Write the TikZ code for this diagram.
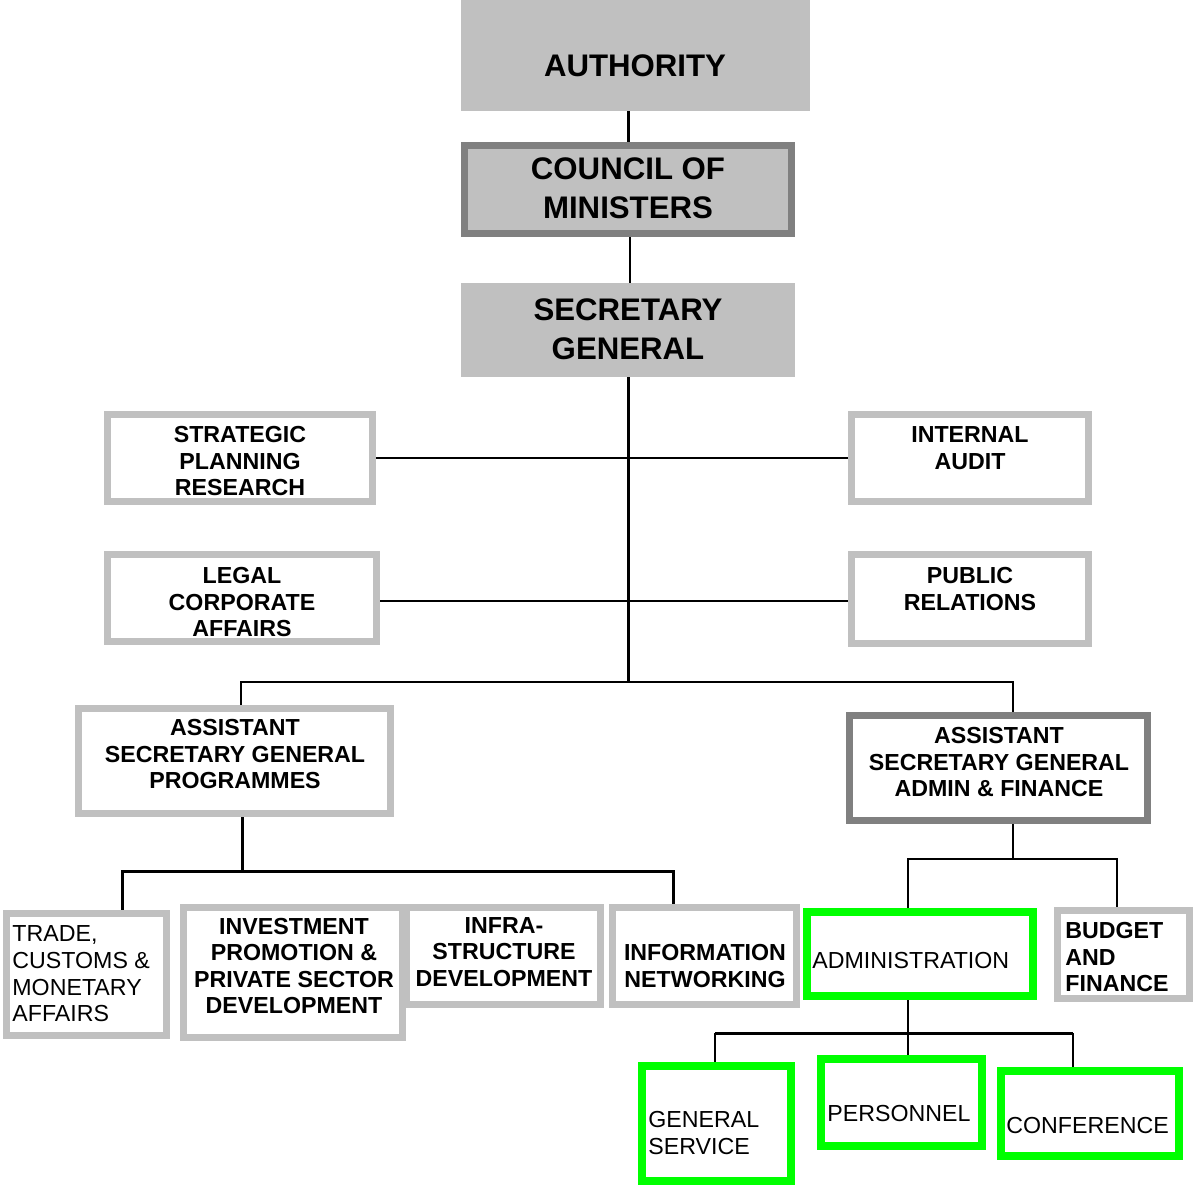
\documentclass[tikz,border=0pt]{standalone}
\usepackage{fontspec}
\setmainfont{Liberation Sans}
\usetikzlibrary{fit,backgrounds}
\definecolor{lg}{HTML}{C0C0C0}
\definecolor{dg}{HTML}{808080}
\definecolor{gr}{HTML}{00FF00}
\begin{document}
\begin{tikzpicture}[x=0.5pt,y=-0.5pt,
  fbox/.style={fill=lg,draw=none,inner sep=0pt},
  dfbox/.style={fill=lg,draw=dg,line width=3.5pt,inner sep=0pt},
  lbox/.style={draw=lg,line width=3.5pt,fill=white,inner sep=0pt},
  dbox/.style={draw=dg,line width=3.5pt,fill=white,inner sep=0pt},
  gbox/.style={draw=gr,line width=4pt,fill=white,inner sep=0pt},
  big/.style={font=\bfseries\fontsize{15.6}{19.5}\selectfont,align=center,inner sep=0pt},
  mid/.style={font=\bfseries\fontsize{11.6}{13.3}\selectfont,align=center,inner sep=0pt},
  midl/.style={font=\bfseries\fontsize{11.6}{13.3}\selectfont,align=left,inner sep=0pt,anchor=west},
  reg/.style={font=\fontsize{11.6}{13.3}\selectfont,align=left,inner sep=0pt,anchor=west},
  thk/.style={line width=1.5pt},
  thn/.style={line width=0.9pt}]
\useasboundingbox (0,0) rectangle (1194,1185);
% boxes
\node[fbox,fit={(461,0) (810,111)}] (auth) {};
\node[dfbox,fit={(464.5,145.5) (791.5,233.5)}] (coun) {};
\node[fbox,fit={(461,283) (795,377)}] (sg) {};
\node[lbox,fit={(107.5,414.5) (372.5,501.5)}] (spr) {};
\node[lbox,fit={(851.5,414.5) (1088.5,501.5)}] (ia) {};
\node[lbox,fit={(107.5,554.5) (376.5,641.5)}] (lca) {};
\node[lbox,fit={(851.5,554.5) (1088.5,643.5)}] (pr) {};
\node[lbox,fit={(78.5,708.5) (390.5,813.5)}] (asgp) {};
\node[dbox,fit={(849.5,715.5) (1147.5,820.5)}] (asga) {};
\node[lbox,fit={(6.5,913.5) (166.5,1035.5)}] (trade) {};
\node[lbox,fit={(183.5,907.5) (402.5,1037.5)}] (inv) {};
\node[lbox,fit={(406.5,907.5) (600.5,1004.5)}] (infra) {};
\node[lbox,fit={(612.5,907.5) (796.5,1004.5)}] (info) {};
\node[gbox,fit={(807,912) (1033,996)}] (adm) {};
\node[lbox,fit={(1057.5,910.5) (1189.5,998.5)}] (bud) {};
\node[gbox,fit={(642,1066) (791,1181)}] (gs) {};
\node[gbox,fit={(821,1059) (982,1146)}] (per) {};
\node[gbox,fit={(1001,1071) (1179,1156)}] (conf) {};
% texts
\node[big] (tauth) at (635,66) {AUTHORITY};
\node[big] (tcoun) at (628,188) {COUNCIL OF\\MINISTERS};
\node[big] (tsg) at (628,329) {SECRETARY\\GENERAL};
\node[mid] (tspr) at (240,461) {STRATEGIC\\PLANNING\\RESEARCH};
\node[mid] (tia) at (970,448) {INTERNAL\\AUDIT};
\node[mid] (tlca) at (242,602) {LEGAL\\CORPORATE\\AFFAIRS};
\node[mid] (tpr) at (970,589) {PUBLIC\\RELATIONS};
\node[mid] (tasgp) at (235,754) {ASSISTANT\\SECRETARY GENERAL\\PROGRAMMES};
\node[mid] (tasga) at (999,762) {ASSISTANT\\SECRETARY GENERAL\\ADMIN \& FINANCE};
\node[reg] (ttrade) at (12,974) {TRADE,\\CUSTOMS \&\\MONETARY\\AFFAIRS};
\node[mid] (tinv) at (294,966) {INVESTMENT\\PROMOTION \&\\PRIVATE SECTOR\\DEVELOPMENT};
\node[mid] (tinfra) at (504,952) {INFRA-\\STRUCTURE\\DEVELOPMENT};
\node[mid] (tinfo) at (705,966) {INFORMATION\\NETWORKING};
\node[reg] (tadm) at (812,960) {ADMINISTRATION};
\node[midl] (tbud) at (1065,957) {BUDGET\\AND\\FINANCE};
\node[reg] (tgs) at (648,1133) {GENERAL\\SERVICE};
\node[reg] (tper) at (827,1113) {PERSONNEL};
\node[reg] (tconf) at (1006,1125) {CONFERENCE};
% junctions
\coordinate (j1) at (628,682);
\coordinate (j2) at (241,682);
\coordinate (j3) at (1013,682);
\coordinate (lr) at (380,601);
\coordinate (k0) at (242,871);
\coordinate (k1) at (122,871);
\coordinate (k2) at (673,871);
\coordinate (m0) at (1013,859);
\coordinate (m1) at (908,859);
\coordinate (m2) at (1117,859);
\coordinate (n0) at (908,1033);
\coordinate (n1) at (715,1033);
\coordinate (n2) at (1073,1033);
\begin{scope}[on background layer]
\draw[thk] (coun.north |- auth.south) -- (coun.north);
\draw[thn] (630,0 |- coun.south) -- (630,0 |- sg.north);
\draw[thk] (sg.south -| j1) -- (j1);
\draw[thn] (spr.east) -- (ia.west);
\draw[thn] (lr) -- (lr -| pr.west);
\draw[thn] (j2 |- asgp.north) -- (j2) -- (j3) -- (j3 |- asga.north);
\draw[thk] (k0 |- asgp.south) -- (k0);
\draw[thk] (k1 |- trade.north) -- (k1) -- (k2) -- (k2 |- info.north);
\draw[thn] (m0 |- asga.south) -- (m0);
\draw[thn] (m1 |- adm.north) -- (m1) -- (m2) -- (m2 |- bud.north);
\draw[thn] (n0 |- adm.south) -- (n0);
\draw[thk] (n1) -- (n2);
\draw[thn] (n1) -- (n1 |- gs.north);
\draw[thn] (n0) -- (n0 |- per.north);
\draw[thn] (n2) -- (n2 |- conf.north);
\end{scope}
\end{tikzpicture}
\end{document}
